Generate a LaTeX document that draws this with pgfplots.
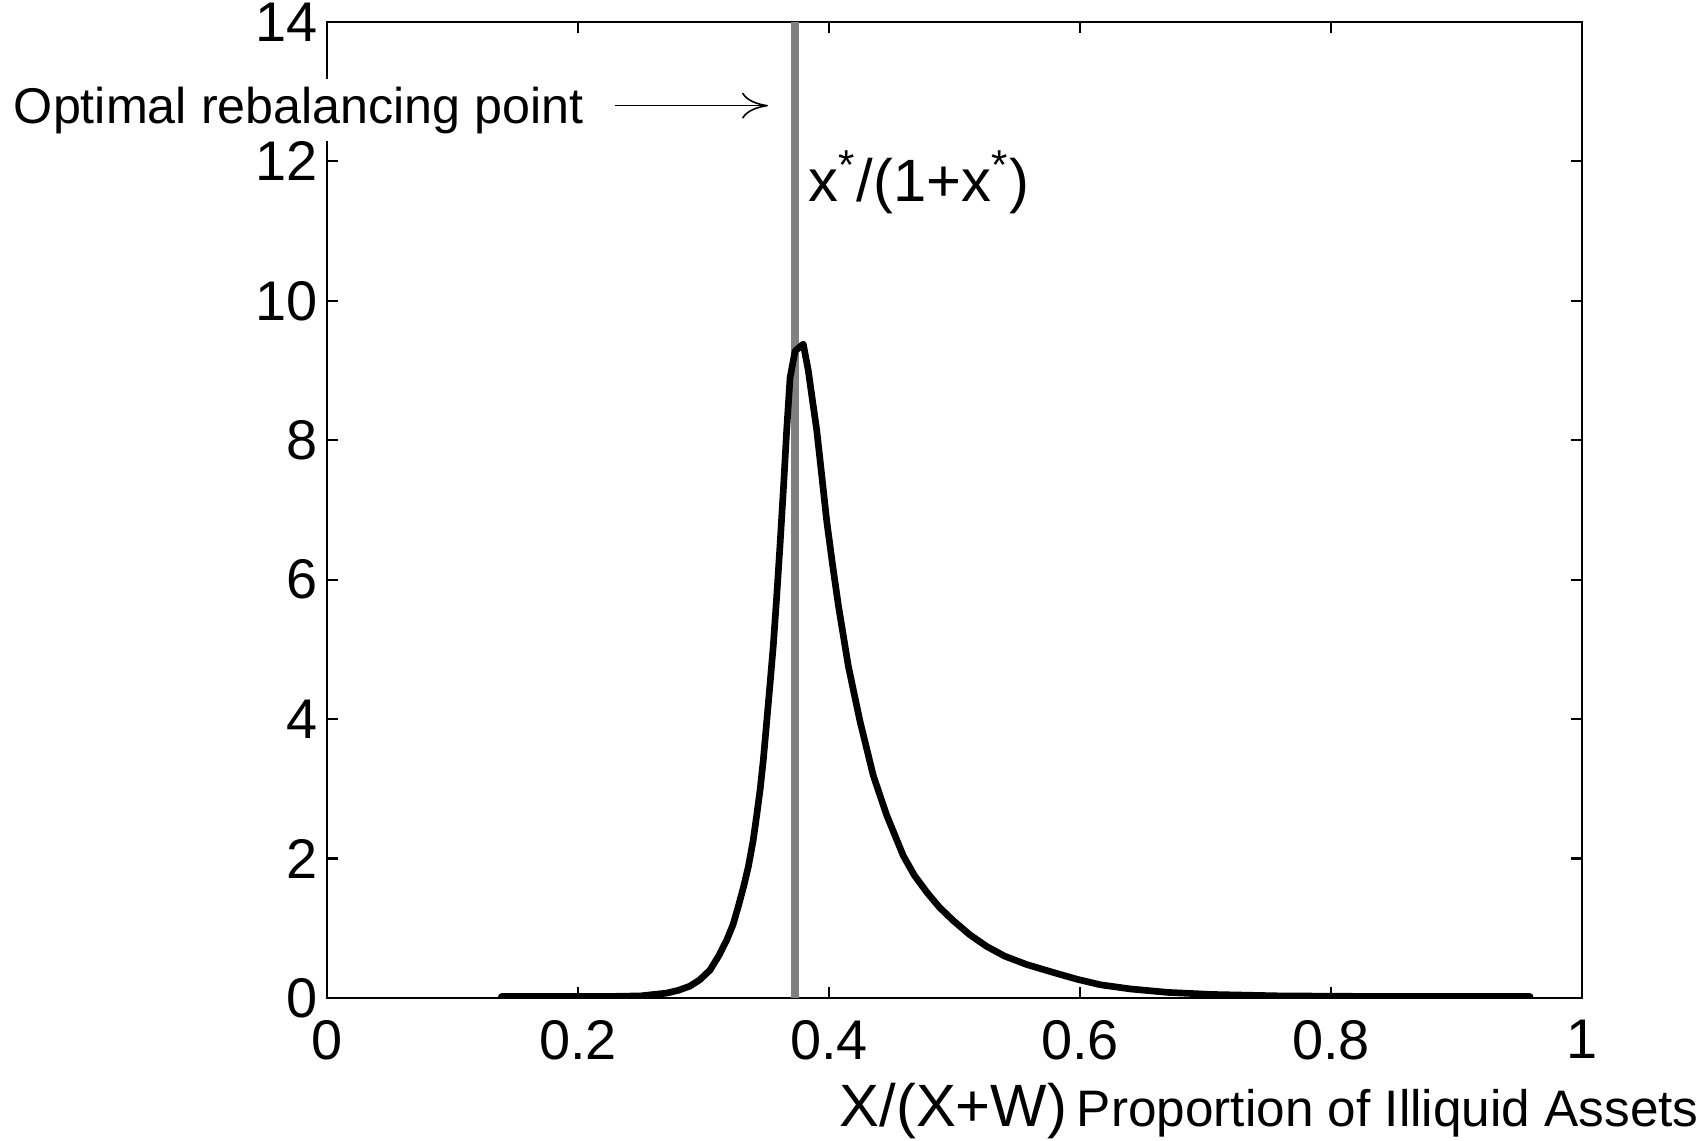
\documentclass[border=0pt]{standalone}
\usepackage{fontspec}
\setmainfont{Liberation Sans}
\usepackage{pgfplots}
\pgfplotsset{compat=1.18}
\usetikzlibrary{arrows.meta}
\definecolor{refgray}{RGB}{128,128,128}
\begin{document}
\begin{tikzpicture}
\useasboundingbox (-32.7mm,-14.3mm) rectangle (138.1mm,99.8mm);
\begin{axis}[
  at={(0,0)}, anchor=south west,
  scale only axis,
  width=125.5mm, height=97.6mm,
  xmin=0, xmax=1, ymin=0, ymax=14,
  xtick={0,0.2,0.4,0.6,0.8,1},
  xticklabels={0,0.2,0.4,0.6,0.8,1},
  ytick={0,2,4,6,8,10,12,14},
  tick align=inside,
  major tick length=1.1mm,
  axis line style={line width=0.6pt},
  tick style={line width=0.6pt, black},
  /pgf/number format/assume math mode=true,
  tick label style={font=\fontsize{15.9}{15.9}\selectfont},
  xticklabel style={yshift=-1mm},
  yticklabel style={xshift=0.3mm},
]
\addplot[refgray, line width=2.1pt] coordinates {(0.373,0) (0.373,14)};
\addplot[black, line width=1.9pt, line join=round, line cap=round] coordinates {
(0.139,0.02) (0.18,0.02) (0.22,0.02) (0.25,0.03) (0.2707,0.07) (0.2800,0.11)
(0.2892,0.17) (0.2970,0.26) (0.3052,0.40) (0.3120,0.60) (0.3185,0.83)
(0.3235,1.05) (0.3277,1.31) (0.3320,1.60) (0.3357,1.88) (0.3395,2.25)
(0.3424,2.62) (0.3452,3.00) (0.3477,3.42) (0.3503,3.95) (0.3530,4.50)
(0.3556,5.05) (0.3583,5.75) (0.3610,6.50) (0.3640,7.40) (0.3663,8.15)
(0.3690,8.90) (0.3730,9.28) (0.3795,9.38) (0.3835,9.00) (0.3870,8.55)
(0.3902,8.15) (0.3942,7.50) (0.3982,6.84) (0.4028,6.22) (0.4074,5.64)
(0.4154,4.76) (0.4247,3.97) (0.4353,3.19) (0.4460,2.62) (0.4592,2.04)
(0.4680,1.76) (0.4778,1.52) (0.4880,1.30) (0.4990,1.11) (0.5120,0.91)
(0.5256,0.74) (0.5400,0.60) (0.5575,0.48) (0.5780,0.37) (0.5974,0.27)
(0.6160,0.19) (0.6400,0.13) (0.6700,0.08) (0.7060,0.05) (0.7590,0.03)
(0.8500,0.02) (0.9586,0.02)
};
\coordinate (opt) at (axis cs:-0.250,12.55);
\coordinate (arA) at (axis cs:0.2295,12.80);
\coordinate (arB) at (axis cs:0.3514,12.80);
\coordinate (xs) at (axis cs:0.3833,11.43);
\coordinate (xl) at (axis cs:0.408,-1.85);
\end{axis}
\node[anchor=base west, fill=white, inner xsep=0pt, inner ysep=0.8mm,
      font=\fontsize{14.3}{14.3}\selectfont] at (opt) {Optimal rebalancing point};
\draw[line width=0.45pt, -{To[length=2.6mm,width=2.6mm]}] (arA) -- (arB);
\node[anchor=base west, inner sep=0pt, font=\fontsize{17}{17}\selectfont] at (xs)
  {x\textsuperscript{*}/(1+x\textsuperscript{*})};
\node[anchor=base west, inner sep=0pt] at (xl)
  {{\fontsize{17}{17}\selectfont X/(X+W)} {\fontsize{14.6}{14.6}\selectfont Proportion of Illiquid Assets}};
\end{tikzpicture}
\end{document}
